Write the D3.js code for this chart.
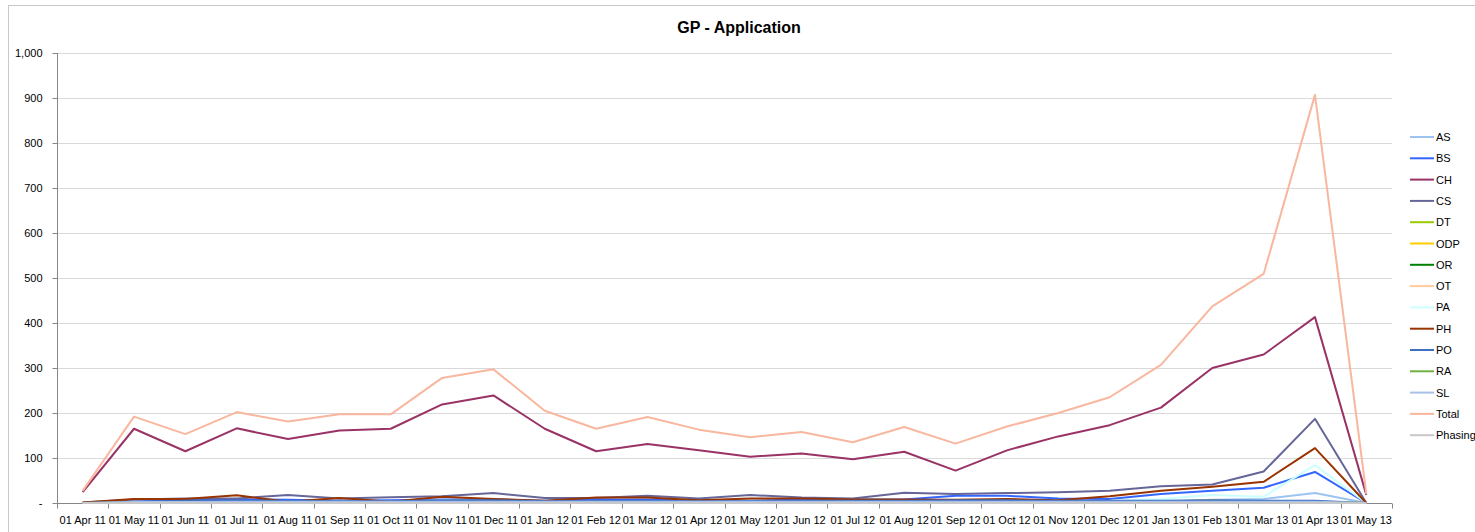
<!DOCTYPE html>
<html>
<head>
<meta charset="utf-8">
<script src="https://cdn.jsdelivr.net/npm/d3@7"></script>
<style>
  html, body { margin: 0; padding: 0; background: #fff; }
  svg { display: block; font-family: "Liberation Sans", Arial, sans-serif; }
</style>
</head>
<body>
<svg id="chart" width="1475" height="532"></svg>
<script>
// Monthly categories
const months = ["01 Apr 11","01 May 11","01 Jun 11","01 Jul 11","01 Aug 11","01 Sep 11","01 Oct 11",
  "01 Nov 11","01 Dec 11","01 Jan 12","01 Feb 12","01 Mar 12","01 Apr 12","01 May 12","01 Jun 12",
  "01 Jul 12","01 Aug 12","01 Sep 12","01 Oct 12","01 Nov 12","01 Dec 12","01 Jan 13","01 Feb 13",
  "01 Mar 13","01 Apr 13","01 May 13"];

// Series values, one per month
const AS  = [0,1,2,2,2,2,2,3,3,2,2,3,2,2,3,2,3,3,3,3,3,3,7,9,22,0];
const BS  = [0,3,7,8,7,5,6,8,8,5,8,8,6,5,8,8,8,16,16,10,9,20,27,34,69,0];
const CH  = [24,165,115,166,142,161,165,219,239,165,115,131,117,103,110,97,114,72,117,148,173,212,300,330,413,18];
const CS  = [1,8,10,10,18,10,13,15,22,11,11,16,10,18,12,10,23,20,22,24,27,37,41,70,187,0];
const DT  = [0,1,1,1,1,1,1,1,1,1,1,1,1,1,1,1,1,1,1,1,1,1,1,1,1,0];
const ODP = [0,0,0,0,0,0,0,0,0,0,0,0,1,0,0,0,0,0,0,0,0,3,6,1,1,0];
const OR  = [0,0,0,0,0,0,0,0,0,0,0,0,0,0,0,0,0,0,0,0,0,0,0,0,0,0];
const OT  = [0,1,1,1,1,1,1,1,1,1,1,1,1,1,1,1,1,1,1,1,1,1,1,1,1,0];
const PA  = [0,2,3,3,3,3,3,6,5,4,4,4,3,3,3,3,3,4,4,4,5,9,18,14,84,0];
const PH  = [1,9,9,17,3,11,3,14,9,5,12,12,6,10,10,8,8,7,9,6,15,27,36,47,122,0];
const PO  = [0,3,5,5,5,4,4,6,6,4,5,5,4,4,5,5,5,6,6,5,5,5,6,5,5,0];
const RA  = [0,1,1,1,1,1,1,1,1,1,1,1,1,1,1,1,1,1,1,1,1,1,1,1,1,0];
const SL  = [0,2,2,3,3,3,3,3,3,3,3,3,3,3,3,3,3,3,3,3,3,3,3,3,3,0];
const Total = [27,192,153,202,181,197,197,278,297,205,165,191,163,146,158,135,169,132,170,200,235,307,437,509,907,20];
const Phasing = [0,0,0,0,0,0,0,0,0,0,0,0,0,0,0,0,0,0,0,0,0,0,0,0,0,0];

const yTicks = [0,100,200,300,400,500,600,700,800,900,1000];
const title = "GP - Application";

const series = [
  { name: "AS", values: AS, color: "#9cc3f2" },
  { name: "BS", values: BS, color: "#3366ff" },
  { name: "CH", values: CH, color: "#993366" },
  { name: "CS", values: CS, color: "#666699" },
  { name: "DT", values: DT, color: "#99cc00" },
  { name: "ODP", values: ODP, color: "#ffcc00" },
  { name: "OR", values: OR, color: "#008000" },
  { name: "OT", values: OT, color: "#ffcc99" },
  { name: "PA", values: PA, color: "#ccffff" },
  { name: "PH", values: PH, color: "#993300" },
  { name: "PO", values: PO, color: "#3f6fbf" },
  { name: "RA", values: RA, color: "#70b040" },
  { name: "SL", values: SL, color: "#a9c0e8" },
  { name: "Total", values: Total, color: "#f8b79e" },
  { name: "Phasing", values: Phasing, color: "#c8c8c8" }
];

const svg = d3.select("#chart");
const margin = { left: 57, right: 1392, top: 53, bottom: 503 };

// Outer chart frame
svg.append("rect")
  .attr("x", 8.5).attr("y", 5.5)
  .attr("width", 1480).attr("height", 540)
  .attr("fill", "none").attr("stroke", "#c8c8c8");

const x = d3.scaleBand().domain(months).range([margin.left, margin.right]).paddingInner(0).paddingOuter(0);
const y = d3.scaleLinear().domain([0, 1000]).range([margin.bottom, margin.top]);

// Horizontal gridlines
svg.append("g")
  .selectAll("line")
  .data(yTicks.filter(d => d > 0))
  .join("line")
  .attr("x1", margin.left).attr("x2", margin.right)
  .attr("y1", d => Math.round(y(d)) + 0.5).attr("y2", d => Math.round(y(d)) + 0.5)
  .attr("stroke", "#d9d9d9").attr("stroke-width", 1);

// Y axis
const yAxis = d3.axisLeft(y)
  .tickValues(yTicks)
  .tickSize(5)
  .tickPadding(10)
  .tickFormat(d => d === 0 ? "-" : d3.format(",")(d));
const gy = svg.append("g").attr("transform", `translate(${margin.left + 0.5},0)`).call(yAxis);
gy.select(".domain").attr("stroke", "#868686").attr("d", `M0,${margin.top}V${margin.bottom}`);
gy.selectAll(".tick line").attr("stroke", "#868686").attr("x2", -5);
gy.selectAll(".tick text").attr("font-size", 11).attr("fill", "#000")
  .attr("font-family", "Liberation Sans, Arial, sans-serif");

// X axis: ticks between categories
const gx = svg.append("g").attr("transform", `translate(0,${margin.bottom + 0.5})`);
gx.append("line")
  .attr("x1", margin.left).attr("x2", margin.right)
  .attr("stroke", "#868686");
gx.selectAll("line.tk")
  .data(months.concat(["__end"]))
  .join("line").attr("class", "tk")
  .attr("x1", (d, i) => Math.round(margin.left + i * x.bandwidth()) + 0.5)
  .attr("x2", (d, i) => Math.round(margin.left + i * x.bandwidth()) + 0.5)
  .attr("y1", 0).attr("y2", 5)
  .attr("stroke", "#868686");
gx.selectAll("text")
  .data(months)
  .join("text")
  .attr("x", d => x(d) + x.bandwidth() / 2)
  .attr("y", 20)
  .attr("text-anchor", "middle")
  .attr("font-size", 11)
  .attr("fill", "#000")
  .text(d => d);

// Lines
const line = d3.line()
  .x((d, i) => x(months[i]) + x.bandwidth() / 2)
  .y(d => y(d));

svg.append("g")
  .selectAll("path")
  .data(series)
  .join("path")
  .attr("d", s => line(s.values))
  .attr("fill", "none")
  .attr("stroke", s => s.color)
  .attr("stroke-width", 2)
  .attr("stroke-linejoin", "round");

// Title
svg.append("text")
  .attr("x", 739).attr("y", 33)
  .attr("text-anchor", "middle")
  .attr("font-size", 16)
  .attr("font-weight", "bold")
  .attr("fill", "#000")
  .text(title);

// Legend
const legend = svg.append("g").attr("transform", "translate(1410,137)");
const rows = legend.selectAll("g").data(series).join("g")
  .attr("transform", (d, i) => `translate(0,${i * 21.3})`);
rows.append("line")
  .attr("x1", 0).attr("x2", 24).attr("y1", 0).attr("y2", 0)
  .attr("stroke", d => d.color).attr("stroke-width", 2);
rows.append("text")
  .attr("x", 26).attr("y", 4)
  .attr("font-size", 11)
  .attr("fill", "#000")
  .text(d => d.name);
</script>
</body>
</html>
